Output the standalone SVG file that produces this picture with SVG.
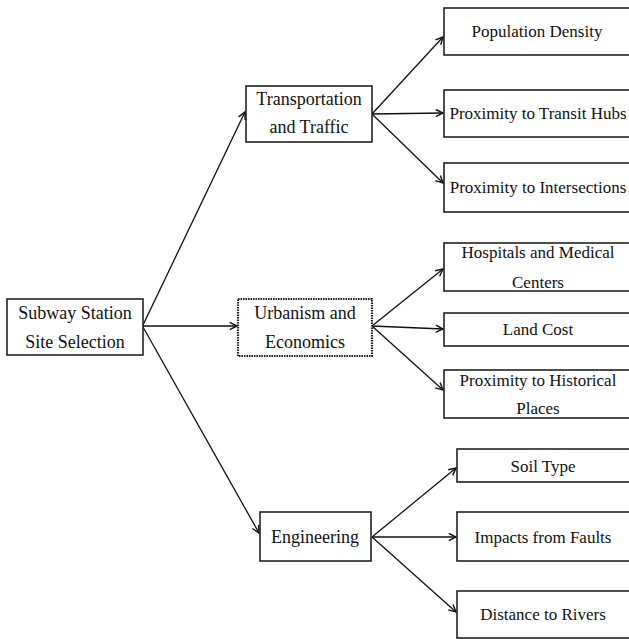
<svg xmlns="http://www.w3.org/2000/svg" width="629" height="639" viewBox="0 0 629 639">
<style>
.box{fill:#fff;stroke:#222;stroke-width:1.6}
.dot{fill:#fff;stroke:#222;stroke-width:2.2;stroke-dasharray:1.6 0.9}
.t{font-family:"Liberation Serif","Times New Roman",serif;font-size:17px;fill:#111;text-anchor:middle}
.b{font-size:18px}
.c{stroke:#111;stroke-width:1.3;fill:none;marker-end:url(#ah)}
</style>
<defs>
<marker id="ah" viewBox="0 0 10 10" refX="9" refY="5" markerWidth="9" markerHeight="9" markerUnits="userSpaceOnUse" orient="auto">
<path d="M1,1 L9,5 L1,9" fill="none" stroke="#111" stroke-width="1.6"/>
</marker>
</defs>
<rect width="629" height="639" fill="#fff"/>
<g id="connectors">
<line class="c" x1="143" y1="325" x2="245" y2="112"/>
<line class="c" x1="143" y1="326" x2="237" y2="326"/>
<line class="c" x1="143" y1="327" x2="259" y2="533"/>
<line class="c" x1="372" y1="114" x2="443" y2="37"/>
<line class="c" x1="372" y1="114" x2="443" y2="113"/>
<line class="c" x1="372" y1="114" x2="443" y2="183"/>
<line class="c" x1="372" y1="326" x2="443" y2="269"/>
<line class="c" x1="372" y1="326" x2="443" y2="329"/>
<line class="c" x1="372" y1="326" x2="443" y2="390"/>
<line class="c" x1="372" y1="537" x2="456" y2="468"/>
<line class="c" x1="372" y1="537" x2="456" y2="537"/>
<line class="c" x1="372" y1="537" x2="456" y2="612"/>
</g>
<g id="root"><rect class="box" x="7" y="299" width="136" height="56"/><text class="t b" x="75" y="319">Subway Station</text><text class="t b" x="75" y="348">Site Selection</text></g>
<g id="transport"><rect class="box" x="246" y="86" width="126" height="56"/><text class="t b" x="309" y="105">Transportation</text><text class="t b" x="309" y="133">and Traffic</text></g>
<g id="urban"><rect class="dot" x="238" y="299" width="134" height="57"/><text class="t b" x="305" y="319">Urbanism and</text><text class="t b" x="305" y="348">Economics</text></g>
<g id="engineering"><rect class="box" x="260" y="512" width="111" height="49"/><text class="t b" x="315" y="543">Engineering</text></g>
<g id="popdensity"><rect class="box" x="444" y="8" width="200" height="47"/><text class="t" x="537" y="37">Population Density</text></g>
<g id="transit"><rect class="box" x="444" y="90" width="200" height="47"/><text class="t" x="538" y="119">Proximity to Transit Hubs</text></g>
<g id="intersections"><rect class="box" x="444" y="163" width="200" height="49"/><text class="t" x="538" y="193">Proximity to Intersections</text></g>
<g id="hospitals"><rect class="box" x="444" y="243" width="200" height="48"/><text class="t" x="538" y="258">Hospitals and Medical</text><text class="t" x="538" y="288">Centers</text></g>
<g id="landcost"><rect class="box" x="444" y="313" width="200" height="33"/><text class="t" x="538" y="335">Land Cost</text></g>
<g id="historical"><rect class="box" x="444" y="370" width="200" height="48"/><text class="t" x="538" y="386">Proximity to Historical</text><text class="t" x="538" y="414">Places</text></g>
<g id="soil"><rect class="box" x="457" y="449" width="200" height="33"/><text class="t" x="543" y="472">Soil Type</text></g>
<g id="faults"><rect class="box" x="457" y="512" width="200" height="49"/><text class="t" x="543" y="543">Impacts from Faults</text></g>
<g id="rivers"><rect class="box" x="457" y="591" width="200" height="47"/><text class="t" x="543" y="620">Distance to Rivers</text></g>
</svg>
